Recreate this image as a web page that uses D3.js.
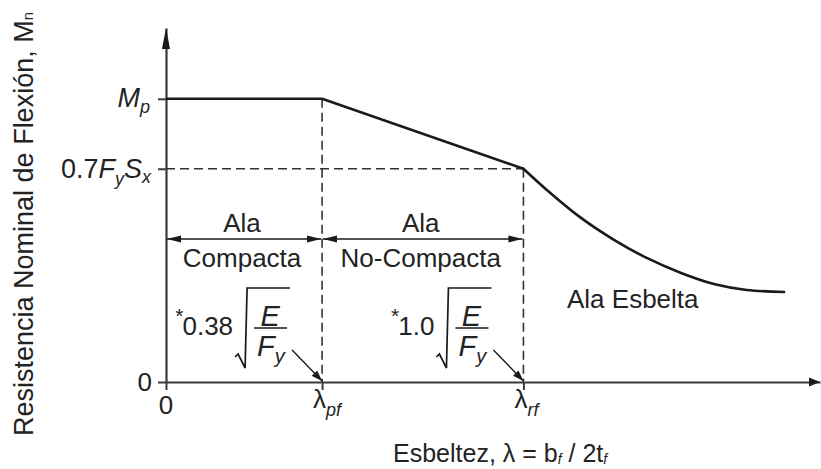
<!DOCTYPE html>
<html>
<head>
<meta charset="utf-8">
<script src="https://cdn.jsdelivr.net/npm/d3@7"></script>
<style>
  body { margin: 0; background: #fff; }
  svg { display: block; }
  text { font-family: "Liberation Sans", Arial, Helvetica, sans-serif; fill: #232323; }
</style>
</head>
<body>
<svg id="chart" width="821" height="469"></svg>
<script>
// Flange slenderness (in units of λpf) and nominal flexural strength (in units of Mp)
const slenderness = [0, 1.00, 2.29, 2.44, 2.65, 2.87, 3.08, 3.30, 3.51, 3.72, 3.96];
const strength    = [1.00, 1.00, 0.753, 0.678, 0.583, 0.502, 0.438, 0.385, 0.346, 0.325, 0.318];

// Limiting width-thickness ratios and their coefficients on sqrt(E/Fy)
const limitSubs   = ["pf", "rf"];
const limitValues = [1.00, 2.29];
const limitCoefs  = ["0.38", "1.0"];

// Strength levels marked on the vertical axis
const plasticLevel = 1.00;   // Mp
const yieldLevel   = 0.753;  // 0.7FySx

// Flange classification bands
const bandTop    = ["Ala", "Ala"];
const bandBottom = ["Compacta", "No-Compacta"];
const slenderLabel = "Ala Esbelta";

const xMax = 4.19, yMax = 1.25;

const svg = d3.select("#chart");
const x = d3.scaleLinear().domain([0, xMax]).range([166, 820]);
const y = d3.scaleLinear().domain([0, yMax]).range([382, 28]);

const ink = "#1a1a1a", axisInk = "#3a3a3a";

// arrowhead markers
const defs = svg.append("defs");
function marker(id, len, half) {
  defs.append("marker").attr("id", id)
    .attr("markerUnits", "userSpaceOnUse")
    .attr("viewBox", `0 0 ${len} ${half * 2}`)
    .attr("refX", len).attr("refY", half)
    .attr("markerWidth", len).attr("markerHeight", half * 2)
    .attr("orient", "auto-start-reverse")
    .append("path").attr("d", `M0,0L${len},${half}L0,${half * 2}Z`).attr("fill", ink);
}
marker("dimHead", 14, 3.6);
marker("ptrHead", 11, 3.8);

// ---- axes ----
const xAxis = d3.axisBottom(x).tickValues([0, ...limitValues]).tickSize(8).tickSizeOuter(0).tickFormat("");
const yAxis = d3.axisLeft(y).tickValues([0, yieldLevel, plasticLevel]).tickSize(8).tickSizeOuter(0).tickFormat("");

const gx = svg.append("g").attr("transform", `translate(0,${y(0)})`).call(xAxis);
const gy = svg.append("g").attr("transform", `translate(${x(0)},0)`).call(yAxis);
[gx, gy].forEach(g => {
  g.select(".domain").attr("stroke", axisInk).attr("stroke-width", 2.2);
  g.selectAll(".tick line").attr("stroke", axisInk).attr("stroke-width", 2);
});

// axis arrowheads
svg.append("path")
  .attr("d", `M${x(0) - 4},${y(yMax) + 21}L${x(0)},${y(yMax)}L${x(0) + 4},${y(yMax) + 21}Z`)
  .attr("fill", ink);
svg.append("path")
  .attr("d", `M${x(xMax) - 11},${y(0) - 4.5}L${x(xMax)},${y(0)}L${x(xMax) - 11},${y(0) + 4.5}Z`)
  .attr("fill", ink);

// ---- dashed reference lines ----
const dash = "9,5";
const refs = svg.append("g").attr("stroke", "#333").attr("stroke-width", 1.6).attr("stroke-dasharray", dash).attr("fill", "none");
refs.append("line").attr("x1", x(0)).attr("x2", x(limitValues[1])).attr("y1", y(yieldLevel)).attr("y2", y(yieldLevel));
refs.append("line").attr("x1", x(limitValues[0])).attr("x2", x(limitValues[0])).attr("y1", y(plasticLevel)).attr("y2", y(0));
refs.append("line").attr("x1", x(limitValues[1])).attr("x2", x(limitValues[1])).attr("y1", y(yieldLevel)).attr("y2", y(0));

// ---- strength curve ----
const pts = slenderness.map((s, i) => [s, strength[i]]);
const straight = d3.line().x(d => x(d[0])).y(d => y(d[1]));
const smooth = d3.line().x(d => x(d[0])).y(d => y(d[1])).curve(d3.curveCatmullRom.alpha(0.5));
svg.append("path").attr("d", straight(pts.slice(0, 3)))
  .attr("fill", "none").attr("stroke", ink).attr("stroke-width", 2.6).attr("stroke-linejoin", "round");
svg.append("path").attr("d", smooth(pts.slice(2)))
  .attr("fill", "none").attr("stroke", ink).attr("stroke-width", 2.6).attr("stroke-linecap", "round");

// ---- vertical-axis labels ----
const fs = 26;
svg.append("text").attr("x", x(0) - 14).attr("y", y(0) + 9).attr("text-anchor", "end")
  .attr("font-size", fs).text("0");

const mp = svg.append("text").attr("x", x(0) - 16).attr("y", y(plasticLevel) + 8)
  .attr("text-anchor", "end").attr("font-size", 27).attr("font-style", "italic");
mp.append("tspan").text("M");
mp.append("tspan").attr("font-size", 18).attr("dy", 6).text("p");

const fy = svg.append("text").attr("x", x(0) - 15).attr("y", y(yieldLevel) + 9)
  .attr("text-anchor", "end").attr("font-size", 27);
fy.append("tspan").text("0.7");
fy.append("tspan").attr("font-style", "italic").text("F");
fy.append("tspan").attr("font-style", "italic").attr("font-size", 18).attr("dy", 7).text("y");
fy.append("tspan").attr("font-style", "italic").attr("dy", -7).text("S");
fy.append("tspan").attr("font-style", "italic").attr("font-size", 18).attr("dy", 5).text("x");

// vertical axis title
const yt = svg.append("text")
  .attr("transform", `translate(33,224) rotate(-90)`)
  .attr("text-anchor", "middle").attr("font-size", 27).attr("fill", "#2b2b2b");
yt.append("tspan").text("Resistencia Nominal de Flexión, M");
yt.append("tspan").attr("font-size", 15).text("n");

// ---- horizontal-axis labels ----
svg.append("text").attr("x", x(0)).attr("y", y(0) + 32).attr("text-anchor", "middle")
  .attr("font-size", fs).text("0");
limitValues.forEach((v, i) => {
  const t = svg.append("text").attr("x", x(v) - 9).attr("y", y(0) + 26).attr("font-size", fs);
  t.append("tspan").text("λ");
  t.append("tspan").attr("font-size", 18).attr("font-style", "italic").attr("dy", 8).text(limitSubs[i]);
});

const xt = svg.append("text").attr("x", 393).attr("y", 462).attr("font-size", 25);
xt.append("tspan").text("Esbeltez, λ = b");
xt.append("tspan").attr("font-size", 14).attr("font-style", "italic").attr("dy", 2).text("f");
xt.append("tspan").attr("dy", -2).text(" / 2t");
xt.append("tspan").attr("font-size", 14).attr("font-style", "italic").attr("dy", 2).text("f");

// ---- classification bands with dimension arrows ----
const bandEdges = [0, ...limitValues];
const bandY = y(0.505);
bandTop.forEach((lbl, i) => {
  const x0 = x(bandEdges[i]), x1 = x(bandEdges[i + 1]), mid = (x0 + x1) / 2 - 2;
  svg.append("line").attr("x1", x0 + 1).attr("x2", x1 - 1).attr("y1", bandY).attr("y2", bandY)
    .attr("stroke", ink).attr("stroke-width", 1.6)
    .attr("marker-start", "url(#dimHead)").attr("marker-end", "url(#dimHead)");
  svg.append("text").attr("x", mid).attr("y", bandY - 7).attr("text-anchor", "middle")
    .attr("font-size", fs).text(lbl);
  svg.append("text").attr("x", mid).attr("y", bandY + 28).attr("text-anchor", "middle")
    .attr("font-size", fs).text(bandBottom[i]);
});
svg.append("text").attr("x", 567).attr("y", y(0.26)).attr("font-size", fs).text(slenderLabel);

// ---- limiting ratio expressions:  *c·sqrt(E/Fy) with pointer to the axis ----
limitValues.forEach((v, i) => {
  const xl = x(v);
  const r = xl - 86;               // start of the radical sign
  const g = svg.append("g");
  const num = g.append("text").attr("x", r - 3).attr("y", 335).attr("text-anchor", "end")
    .attr("font-size", fs).text(limitCoefs[i]);
  const bb = num.node().getBBox();
  g.append("text").attr("x", bb.x + 1).attr("y", 323).attr("text-anchor", "end")
    .attr("font-size", 21).text("*");
  g.append("path")
    .attr("d", `M${r - 1},357L${r + 2},354L${r + 9},368L${r + 11},288L${r + 54},288`)
    .attr("fill", "none").attr("stroke", ink).attr("stroke-width", 1.7).attr("stroke-linejoin", "miter");
  g.append("line").attr("x1", r + 18).attr("x2", r + 51).attr("y1", 328).attr("y2", 328)
    .attr("stroke", ink).attr("stroke-width", 1.7);
  g.append("text").attr("x", r + 34).attr("y", 325.5).attr("text-anchor", "middle")
    .attr("font-size", 29).attr("font-style", "italic").text("E");
  const f = g.append("text").attr("x", r + 21).attr("y", 356).attr("font-size", 29).attr("font-style", "italic");
  f.append("tspan").text("F");
  f.append("tspan").attr("font-size", 20).attr("dy", 7).text("y");
  g.append("line").attr("x1", xl - 30).attr("y1", 350).attr("x2", xl).attr("y2", y(0) - 1)
    .attr("stroke", ink).attr("stroke-width", 1.4).attr("marker-end", "url(#ptrHead)");
});
</script>
</body>
</html>
